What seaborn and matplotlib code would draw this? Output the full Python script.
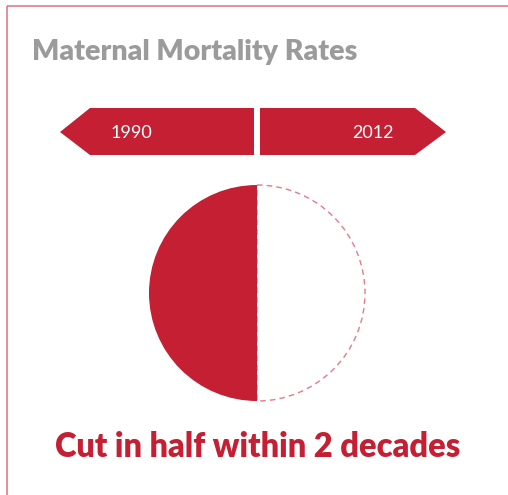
import matplotlib
matplotlib.use("Agg")
import matplotlib.pyplot as plt
from matplotlib.patches import Polygon
import seaborn as sns

# ---- data ----
title = "Maternal Mortality Rates"
years = ["1990", "2012"]
shares = [50, 50]          # 2012 rate is half of the 1990 rate
caption = "Cut in half within 2 decades"

RED = "#C41F33"
PINK = "#E37A8A"
GREY = "#9B9B9B"

sns.set_theme(style="white")
plt.rcParams['font.family'] = ['Lato', 'DejaVu Sans']

W, H = 508, 495
fig = plt.figure(figsize=(W / 100, H / 100), dpi=100)
ax = fig.add_axes([0, 0, 1, 1])

# pie (left half solid, right half dashed outline)
wedges, _ = ax.pie(shares, startangle=90, counterclock=True,
                   center=(257, 293), radius=108, frame=True,
                   colors=[RED, "white"],
                   wedgeprops=dict(linewidth=0))
wedges[1].set_edgecolor(PINK)
wedges[1].set_linewidth(1.0)
wedges[1].set_linestyle((0, (4, 3)))
wedges[0].set_zorder(3)
wedges[1].set_zorder(2)

ax.set_xlim(0, W)
ax.set_ylim(H, 0)
ax.set_aspect('auto')
ax.axis('off')

# frame lines
ax.plot([7, W], [6, 6], color=PINK, lw=1.2, solid_capstyle='butt')
ax.plot([7, 7], [6, H], color=PINK, lw=1.2, solid_capstyle='butt')

# banners
left = Polygon([(60, 132), (90, 108), (254, 108), (254, 155), (90, 155)],
               closed=True, facecolor=RED, edgecolor='none', zorder=2)
right = Polygon([(260, 108), (415, 108), (446, 132), (415, 155), (260, 155)],
                closed=True, facecolor=RED, edgecolor='none', zorder=2)
ax.add_patch(left)
ax.add_patch(right)
ax.text(131, 133, years[0], color='white', fontsize=13, fontweight='normal',
        ha='center', va='center', zorder=5)
ax.text(373, 133, years[1], color='white', fontsize=13, fontweight='normal',
        ha='center', va='center', zorder=5)

# title and caption
ax.text(32, 52, title, color=GREY, fontsize=20.5, fontweight='heavy',
        ha='left', va='center')
ax.text(258, 447, caption, color=RED, fontsize=23.5, fontweight='heavy',
        ha='center', va='center')

fig.savefig("out.png", dpi=100)
